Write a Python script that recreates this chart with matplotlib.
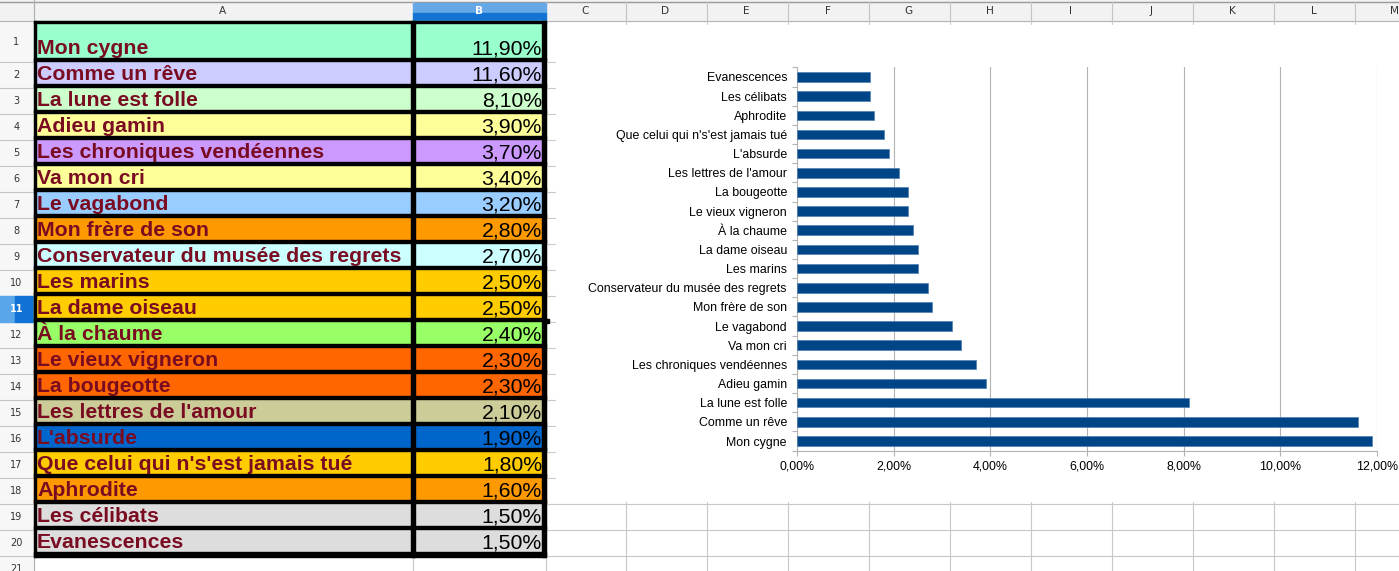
import matplotlib
matplotlib.use("Agg")
import matplotlib.pyplot as plt
from matplotlib.patches import Rectangle
from matplotlib.ticker import FixedLocator, FuncFormatter

# ---------------- data ----------------
titles = ["Mon cygne", "Comme un rêve", "La lune est folle", "Adieu gamin",
          "Les chroniques vendéennes", "Va mon cri", "Le vagabond",
          "Mon frère de son", "Conservateur du musée des regrets", "Les marins",
          "La dame oiseau", "À la chaume", "Le vieux vigneron", "La bougeotte",
          "Les lettres de l'amour", "L'absurde", "Que celui qui n's'est jamais tué",
          "Aphrodite", "Les célibats", "Evanescences"]
shares = [11.9, 11.6, 8.1, 3.9, 3.7, 3.4, 3.2, 2.8, 2.7, 2.5,
          2.5, 2.4, 2.3, 2.3, 2.1, 1.9, 1.8, 1.6, 1.5, 1.5]
row_fills = ["#99ffcc", "#ccccff", "#ccffcc", "#ffff99", "#cc99ff", "#ffff99",
             "#99ccff", "#ff9900", "#ccffff", "#ffcc00", "#ffcc00", "#99ff66",
             "#ff6600", "#ff6600", "#cccc99", "#0066cc", "#ffcc00", "#ff9900",
             "#dddddd", "#dddddd"]
col_letters = ["A", "B", "C", "D", "E", "F", "G", "H", "I", "J", "K", "L", "M"]
x_ticks = [0, 2, 4, 6, 8, 10, 12]

def pct(v):
    return f"{v:.2f}".replace(".", ",") + "%"

W, H = 1399, 571
fig = plt.figure(figsize=(W / 100, H / 100), dpi=100)
bg = fig.add_axes([0, 0, 1, 1])
bg.set_xlim(0, W)
bg.set_ylim(H, 0)
bg.axis("off")

# layout (pixels)
col_edges = [33, 412, 545, 625, 706, 787, 868, 949, 1030, 1111, 1192, 1273, 1354, 1435]
HEAD = 21
def row_top(r):
    return HEAD if r == 1 else 61 + 26 * (r - 2)
def row_bot(r):
    return 61 + 26 * (r - 1)

GRID = "#c8c8c8"
# spreadsheet grid
for r in range(1, 22):
    y = row_bot(r) + 0.5
    bg.plot([0, W], [y, y], color=GRID, lw=0.8, zorder=1)
for x in col_edges:
    bg.plot([x + 0.5, x + 0.5], [HEAD, H], color=GRID, lw=0.8, zorder=1)

# column header
bg.add_patch(Rectangle((0, 0), W, HEAD, color="#f2f2f2", zorder=2))
bg.plot([0, W], [1.5, 1.5], color="#9a9a9a", lw=1, zorder=3)
bg.plot([0, W], [20.5, 20.5], color="#b4b4b4", lw=0.8, zorder=3)
for x in col_edges:
    bg.plot([x + 0.5, x + 0.5], [2, HEAD], color="#c4c4c4", lw=0.8, zorder=3)
bg.add_patch(Rectangle((col_edges[1] + 0.5, 2.5), col_edges[2] - col_edges[1], 10, color="#64a9e6", zorder=3))
bg.add_patch(Rectangle((col_edges[1] + 0.5, 12.5), col_edges[2] - col_edges[1], 8, color="#1474d4", zorder=3))
for i, letter in enumerate(col_letters):
    cx = (col_edges[i] + col_edges[i + 1]) / 2
    bg.text(cx, 11.5, letter, ha="center", va="center", fontsize=7.6,
            family="DejaVu Sans", color="white" if letter == "B" else "#333333",
            fontweight="bold" if letter == "B" else "normal", zorder=4)

# row header
bg.add_patch(Rectangle((0, HEAD), 33, H - HEAD, color="#f7f7f7", zorder=2))
for r in range(1, 22):
    y = row_bot(r) + 0.5
    bg.plot([0, 33], [y, y], color="#c4c4c4", lw=0.8, zorder=3)
bg.plot([33.5, 33.5], [0, H], color="#b0b0b0", lw=0.8, zorder=3)
sel = 11
bg.add_patch(Rectangle((0, row_top(sel) + 0.5), 15, 26, color="#5aa6ea", zorder=3))
bg.add_patch(Rectangle((15, row_top(sel) + 0.5), 18, 26, color="#0f72d4", zorder=3))
for r in range(1, 22):
    cy = (row_top(r) + row_bot(r)) / 2 + 1
    bg.text(16.5, cy, str(r), ha="center", va="center", fontsize=7,
            family="DejaVu Sans", color="white" if r == sel else "#333333",
            fontweight="bold" if r == sel else "normal", zorder=4)

# chart background (white)
bg.add_patch(Rectangle((556, 25), W - 556, 476, color="white", zorder=2))

# table cells
for i, (t, v, c) in enumerate(zip(titles, shares, row_fills)):
    r = i + 1
    top, bot = row_top(r), row_bot(r)
    bg.add_patch(Rectangle((34, top), 512, bot - top, color=c, zorder=3))
    bg.text(37, bot - 6.5, t, ha="left", va="baseline", fontsize=15.3,
            family="Liberation Sans", fontweight="bold", color="#7a0c22", zorder=4)
    bg.text(542, bot - 6.5, pct(v), ha="right", va="baseline", fontsize=15.3,
            family="Liberation Sans", color="black", zorder=4)

# thick black borders
K = "black"
bg.add_patch(Rectangle((34, 21), 512, 2, color=K, zorder=5))
bg.add_patch(Rectangle((34, 21), 2, 536, color=K, zorder=5))
bg.add_patch(Rectangle((542, 21), 4, 536, color=K, zorder=5))
bg.add_patch(Rectangle((411, 21), 4, 536, color=K, zorder=5))
for r in range(1, 20):
    b = row_bot(r)
    bg.add_patch(Rectangle((34, b - 3.5), 512, 3.5, color=K, zorder=5))
bg.add_patch(Rectangle((34, 551.5), 512, 5.5, color=K, zorder=5))
# cell cursor handle
bg.add_patch(Rectangle((545, row_bot(sel) - 2), 4, 4, color=K, zorder=7))

# ---------------- chart ----------------
L, R, T, B = 797, 1377, 67.4, 450.6
ax = fig.add_axes([L / W, 1 - B / H, (R - L) / W, (B - T) / H])
ax.set_facecolor("none")
ax.set_zorder(10)
ypos = list(range(len(titles)))
ax.barh(ypos, shares, height=0.5, color="#004586", edgecolor="#4f7fb1",
        linewidth=0.5, zorder=3)
ax.set_xlim(0, 12)
ax.set_ylim(-0.5, len(titles) - 0.5)
GC = "#b3b3b3"
ax.xaxis.set_major_locator(FixedLocator(x_ticks))
ax.xaxis.set_major_formatter(FuncFormatter(lambda v, p: pct(v)))
ax.grid(axis="x", color=GC, lw=0.8, zorder=1)
ax.set_yticks(ypos)
ax.set_yticklabels(titles)
ax.yaxis.set_minor_locator(FixedLocator([k - 0.5 for k in range(len(titles) + 1)]))
ax.tick_params(axis="y", which="major", length=0, pad=7.2, labelsize=8.9, labelcolor="#000000")
ax.tick_params(axis="y", which="minor", length=3.6, width=0.8, color=GC, direction="out")
ax.tick_params(axis="x", which="major", length=3.6, width=0.8, color=GC, pad=3.5,
               labelsize=8.9, direction="out")
for lab in ax.get_yticklabels() + ax.get_xticklabels():
    lab.set_family("Liberation Sans")
for s in ["top", "right"]:
    ax.spines[s].set_visible(False)
for s in ["left", "bottom"]:
    ax.spines[s].set_color(GC)
    ax.spines[s].set_linewidth(0.8)

fig.savefig("out.png", dpi=100)
